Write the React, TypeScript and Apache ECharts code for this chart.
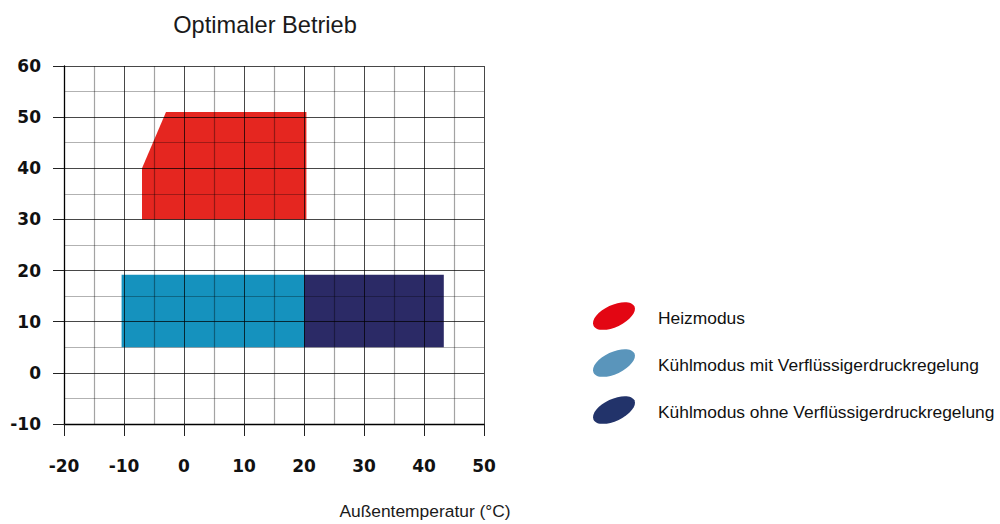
import React, { useEffect, useRef } from "react";
import * as echarts from "echarts";

// ---- data ----
const xTicks = [-20, -10, 0, 10, 20, 30, 40, 50];
const yTicks = [-10, 0, 10, 20, 30, 40, 50, 60];

const heatPolygon: number[][] = [
  [-7, 30],
  [-7, 40],
  [-3, 51],
  [20.4, 51],
  [20.4, 30],
];
const coolWithPolygon: number[][] = [
  [-10.4, 5],
  [-10.4, 19.2],
  [20, 19.2],
  [20, 5],
];
const coolWithoutPolygon: number[][] = [
  [20, 5],
  [20, 19.2],
  [43.3, 19.2],
  [43.3, 5],
];

const seriesNames = [
  "Heizmodus",
  "Kühlmodus mit Verflüssigerdruckregelung",
  "Kühlmodus ohne Verflüssigerdruckregelung",
];
const fillColors = ["#e52620", "#1592be", "#2b2a66"];
const legendColors = ["#e30613", "#5a95bb", "#22336a"];

const titleText = "Optimaler Betrieb";
const xAxisTitle = "Außentemperatur (°C)";

export default function App() {
  const ref = useRef<HTMLDivElement>(null);

  useEffect(() => {
    document.body.style.margin = "0";
    if (!ref.current) return;
    const chart = echarts.init(ref.current, undefined, { renderer: "svg" });

    const polygons = [heatPolygon, coolWithPolygon, coolWithoutPolygon];

    const series = polygons.map((poly, i) => ({
      type: "custom",
      name: seriesNames[i],
      silent: true,
      z: 2,
      data: poly,
      encode: { x: 0, y: 1 },
      renderItem: (params: any, api: any) => {
        if (params.dataIndex !== 0) return null;
        const pts = poly.map((p) => api.coord(p));
        return {
          type: "polygon",
          shape: { points: pts },
          style: { fill: fillColors[i] },
        };
      },
    }));

    const tickFont = {
      fontFamily: "DejaVu Sans",
      fontWeight: "bold",
      fontSize: 17,
      color: "#111",
    };

    const legendGraphics: any[] = [];
    const legendYs = [317, 364, 411];
    seriesNames.forEach((name, i) => {
      legendGraphics.push({
        type: "ellipse",
        x: 614,
        y: legendYs[i] - 1,
        rotation: 0.44,
        shape: { cx: 0, cy: 0, rx: 22.6, ry: 11 },
        style: { fill: legendColors[i] },
        silent: true,
      });
      legendGraphics.push({
        type: "text",
        x: 658,
        y: legendYs[i] + 1,
        style: {
          text: name,
          fontFamily: "Liberation Sans",
          fontSize: 17.4,
          fill: "#111",
          textAlign: "left",
          textVerticalAlign: "middle",
        },
      });
    });

    chart.setOption({
      animation: false,
      grid: {
        left: 64,
        top: 66,
        width: 420,
        height: 358,
        outerBoundsMode: "none",
      },
      xAxis: {
        type: "value",
        min: xTicks[0],
        max: xTicks[xTicks.length - 1],
        interval: 10,
        z: 5,
        axisLine: { show: true, onZero: false, lineStyle: { color: "#000", width: 1.3 } },
        axisTick: { show: true, length: 12, lineStyle: { color: "#222", width: 1 } },
        axisLabel: { ...tickFont, margin: 33 },
        splitLine: { show: true, lineStyle: { color: "rgba(0,0,0,0.72)", width: 1 } },
        minorTick: { show: false, splitNumber: 2 },
        minorSplitLine: { show: true, lineStyle: { color: "rgba(0,0,0,0.36)", width: 1.2 } },
      },
      yAxis: {
        type: "value",
        min: yTicks[0],
        max: yTicks[yTicks.length - 1],
        interval: 10,
        z: 5,
        axisLine: { show: true, onZero: false, lineStyle: { color: "#000", width: 1.3 } },
        axisTick: { show: true, length: 11, lineStyle: { color: "#222", width: 1 } },
        axisLabel: { ...tickFont, margin: 23 },
        splitLine: { show: true, lineStyle: { color: "rgba(0,0,0,0.72)", width: 1 } },
        minorTick: { show: false, splitNumber: 2 },
        minorSplitLine: { show: true, lineStyle: { color: "rgba(0,0,0,0.3)", width: 1.2 } },
      },
      series,
      graphic: [
        {
          type: "text",
          x: 265,
          y: 25,
          style: {
            text: titleText,
            fontFamily: "Liberation Sans",
            fontSize: 23.6,
            fill: "#1a1a1a",
            textAlign: "center",
            textVerticalAlign: "middle",
          },
        },
        {
          type: "text",
          x: 425,
          y: 511,
          style: {
            text: xAxisTitle,
            fontFamily: "Liberation Sans",
            fontSize: 17.4,
            fill: "#1a1a1a",
            textAlign: "center",
            textVerticalAlign: "middle",
          },
        },
        ...legendGraphics,
      ],
    });

    return () => chart.dispose();
  }, []);

  return <div ref={ref} style={{ width: 1000, height: 524 }} />;
}
